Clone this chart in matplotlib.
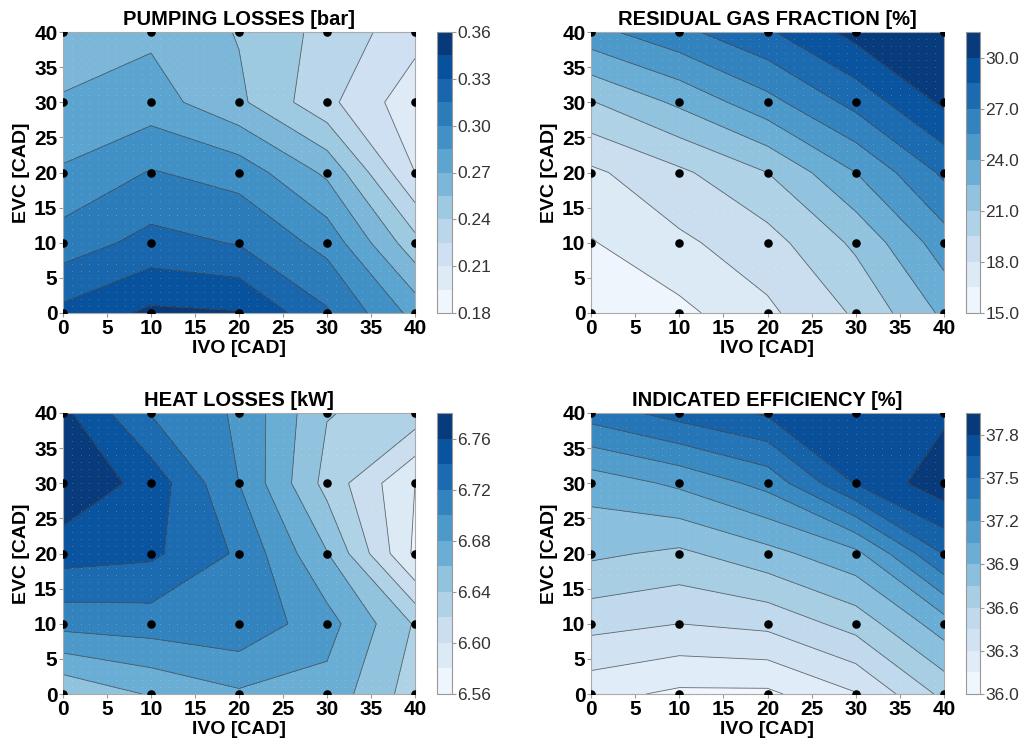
import numpy as np
import matplotlib
matplotlib.use("Agg")
import matplotlib.pyplot as plt

plt.rcParams['font.family'] = ['Liberation Sans', 'DejaVu Sans']

# grid of the test points
ivo = [0, 10, 20, 30, 40]
evc = [0, 10, 20, 30, 40]

# rows = EVC (0..40), columns = IVO (0..40)
pumping = [
    [0.334, 0.348, 0.346, 0.317, 0.280],
    [0.307, 0.320, 0.314, 0.295, 0.245],
    [0.287, 0.301, 0.294, 0.267, 0.210],
    [0.271, 0.277, 0.258, 0.229, 0.200],
    [0.264, 0.267, 0.254, 0.235, 0.216],
]
residual = [
    [15.3, 16.1, 17.7, 19.7, 22.8],
    [16.4, 17.7, 18.9, 21.3, 24.8],
    [17.7, 19.2, 21.0, 24.0, 27.3],
    [20.9, 22.8, 25.0, 27.5, 30.3],
    [25.0, 26.6, 28.3, 30.5, 31.4],
]
heat = [
    [6.642, 6.662, 6.677, 6.673, 6.630],
    [6.707, 6.710, 6.715, 6.688, 6.638],
    [6.749, 6.744, 6.717, 6.661, 6.576],
    [6.777, 6.752, 6.700, 6.633, 6.580],
    [6.765, 6.719, 6.697, 6.641, 6.632],
]
efficiency = [
    [36.20, 36.12, 36.12, 36.29, 36.64],
    [36.50, 36.45, 36.49, 36.66, 36.98],
    [36.78, 36.72, 36.85, 37.01, 37.51],
    [36.96, 37.08, 37.25, 37.66, 37.90],
    [37.42, 37.56, 37.67, 37.76, 37.77],
]

titles = ['PUMPING LOSSES [bar]', 'RESIDUAL GAS FRACTION [%]',
          'HEAT LOSSES [kW]', 'INDICATED EFFICIENCY [%]']
datasets = [pumping, residual, heat, efficiency]
levels = [np.linspace(0.18, 0.36, 13), np.linspace(15.0, 31.5, 12),
          np.linspace(6.56, 6.78, 12), np.linspace(36.0, 37.95, 14)]
cb_ticks = [[0.18, 0.21, 0.24, 0.27, 0.30, 0.33, 0.36],
            [15.0, 18.0, 21.0, 24.0, 27.0, 30.0],
            [6.56, 6.60, 6.64, 6.68, 6.72, 6.76],
            [36.0, 36.3, 36.6, 36.9, 37.2, 37.5, 37.8]]
cb_fmt = ['%.2f', '%.1f', '%.2f', '%.1f']

W, H = 1025, 747
fig = plt.figure(figsize=(W / 100, H / 100), dpi=100)

# pixel boxes: (left, top, right, bottom)
ax_boxes = [(63, 32, 415, 313), (591, 32, 944, 313),
            (63, 413, 415, 694), (591, 413, 944, 694)]
cb_boxes = [(437, 32, 452, 313), (966, 32, 980, 313),
            (437, 413, 452, 694), (966, 413, 980, 694)]


def rect(b):
    l, t, r, bo = b
    return [l / W, 1 - bo / H, (r - l) / W, (bo - t) / H]


X, Y = np.meshgrid(ivo, evc)
fx, fy = np.meshgrid(np.arange(0, 41), np.arange(0, 41))

for i in range(4):
    ax = fig.add_axes(rect(ax_boxes[i]))
    Z = np.array(datasets[i])
    cf = ax.contourf(X, Y, Z, levels=levels[i], cmap='Blues')
    ax.contour(X, Y, Z, levels=levels[i], colors='#4a4a4a', linewidths=0.6, alpha=0.8)
    # faint interpolation grid
    ax.scatter(fx, fy, s=0.6, c='white', alpha=0.25, linewidths=0)
    ax.scatter(X, Y, s=38, c='black', zorder=5, linewidths=0)

    ax.set_xlim(0, 40)
    ax.set_ylim(0, 40)
    ax.set_xticks(range(0, 41, 5))
    ax.set_yticks(range(0, 41, 5))
    ax.tick_params(labelsize=15, length=3, width=0.8, color='#999999', pad=1)
    for lab in ax.get_xticklabels() + ax.get_yticklabels():
        lab.set_fontweight('bold')
    for sp in ax.spines.values():
        sp.set_color('#aaaaaa')
        sp.set_linewidth(0.8)
    ax.set_xlabel('IVO [CAD]', fontsize=14, fontweight='bold', labelpad=2)
    ax.set_ylabel('EVC [CAD]', fontsize=14, fontweight='bold', labelpad=3)
    ax.set_title(titles[i], fontsize=14.5, fontweight='bold', pad=5)

    cax = fig.add_axes(rect(cb_boxes[i]))
    cb = fig.colorbar(cf, cax=cax, ticks=cb_ticks[i], format=cb_fmt[i])
    cb.outline.set_edgecolor('#999999')
    cb.outline.set_linewidth(0.8)
    cax.tick_params(labelsize=12.5, length=3, width=0.8, color='#999999',
                    labelcolor='#333333', pad=1)

plt.savefig('out.png', dpi=100)
